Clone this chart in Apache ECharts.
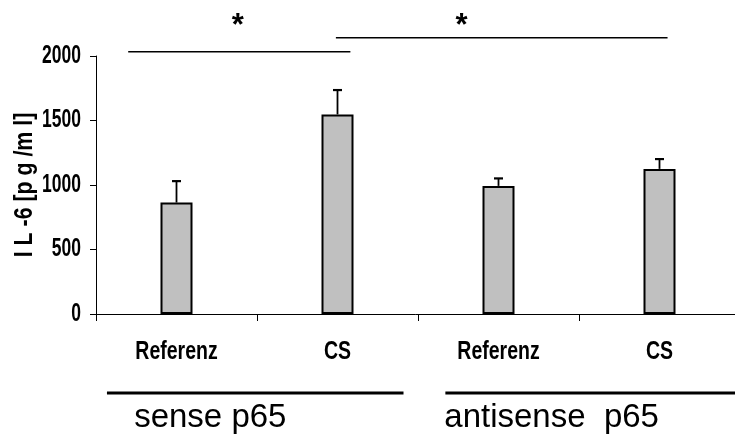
<!DOCTYPE html>
<html>
<head>
<meta charset="utf-8">
<script src="https://cdn.jsdelivr.net/npm/echarts@6/dist/echarts.min.js"></script>
<style>html,body{margin:0;padding:0;background:#fff}#c{width:735px;height:434px}</style>
</head>
<body>
<div id="c"></div>
<script>
// ---- data ----
const categories = ['Referenz', 'CS', 'Referenz', 'CS'];
const values = [864, 1547, 993, 1125];
const errorsUp = [166, 189, 58, 76];
const yTicks = [0, 500, 1000, 1500, 2000];
const yTitle = 'I L -6 [p g /m l]';
// significance brackets: [xStart, xEnd, y] in category units (0..4) / value units
const sigLines = [[0.2, 1.58, 2033], [1.49, 3.55, 2142]];
const sigStars = [[0.88, 2229], [2.27, 2229]];
// group bars below the axis
const groupLines = [[0.068, 1.91, -613], [2.17, 4.1, -613]];
const groupLabels = ['sense p65', 'antisense  p65'];
const groupLabelPos = [[0.71, -806], [2.83, -806]];

const sans = '"Liberation Sans", Arial, sans-serif';

const chart = echarts.init(document.getElementById('c'), null, {renderer: 'canvas'});
chart.setOption({
  animation: false,
  backgroundColor: '#fff',
  grid: {left: 96, right: -5, top: 56, bottom: 120, containLabel: false, outerBoundsMode: 'none'},
  xAxis: [{
    type: 'category', data: categories,
    axisLine: {lineStyle: {color: '#000', width: 1}},
    axisTick: {show: true, length: 7, lineStyle: {color: '#000'}},
    axisLabel: {show: false},
    splitLine: {show: false}
  }, {
    type: 'value', min: 0, max: 4, show: false
  }],
  yAxis: {
    type: 'value', min: 0, max: 2000, interval: 500,
    axisLine: {show: true, lineStyle: {color: '#000', width: 1}},
    axisTick: {show: true, length: 6, lineStyle: {color: '#000'}},
    axisLabel: {show: false},
    splitLine: {show: false}
  },
  series: [
    {
      type: 'bar', data: values, barWidth: 32, xAxisIndex: 0,
      itemStyle: {color: '#C0C0C0', borderColor: '#000', borderWidth: 2}
    },
    {
      type: 'custom', xAxisIndex: 0, z: 3,
      data: values.map((v, i) => [i, v, v + errorsUp[i]]),
      renderItem: (params, api) => {
        const b = api.coord([api.value(0), api.value(1)]);
        const t = api.coord([api.value(0), api.value(2)]);
        const cap = 4.5;
        return {type: 'group', children: [
          {type: 'line', shape: {x1: b[0], y1: b[1], x2: t[0], y2: t[1]}, style: {stroke: '#000', lineWidth: 1.8}},
          {type: 'line', shape: {x1: t[0] - cap, y1: t[1], x2: t[0] + cap, y2: t[1]}, style: {stroke: '#000', lineWidth: 2.2}}
        ]};
      }
    },
    // x tick labels (condensed bold)
    {
      type: 'custom', xAxisIndex: 1, clip: false, z: 5,
      data: categories.map((c, i) => [i + 0.5, 0, i]),
      renderItem: (params, api) => {
        const p = api.coord([api.value(0), api.value(1)]);
        return {type: 'text', x: p[0], y: p[1] + 38, scaleX: 0.75,
          style: {text: categories[api.value(2)], fill: '#000', font: 'bold 26px ' + sans, align: 'center', verticalAlign: 'middle'}};
      }
    },
    // y tick labels
    {
      type: 'custom', xAxisIndex: 1, clip: false, z: 5,
      data: yTicks.map(v => [0, v]),
      renderItem: (params, api) => {
        const p = api.coord([api.value(0), api.value(1)]);
        return {type: 'text', x: p[0] - 15, y: p[1], scaleX: 0.7,
          style: {text: String(api.value(1)), fill: '#000', font: 'bold 25px ' + sans, align: 'right', verticalAlign: 'middle'}};
      }
    },
    // y axis title
    {
      type: 'custom', xAxisIndex: 1, clip: false, z: 5,
      data: [[0, 1000]],
      renderItem: (params, api) => {
        const p = api.coord([api.value(0), api.value(1)]);
        return {type: 'text', x: p[0] - 71, y: p[1], rotation: Math.PI / 2, scaleX: 0.82,
          style: {text: yTitle, fill: '#000', font: 'bold 26px ' + sans, align: 'center', verticalAlign: 'middle'}};
      }
    },
    {
      type: 'custom', xAxisIndex: 1, clip: false, z: 5,
      data: sigLines,
      renderItem: (params, api) => {
        const a = api.coord([api.value(0), api.value(2)]);
        const b = api.coord([api.value(1), api.value(2)]);
        return {type: 'line', shape: {x1: a[0], y1: a[1], x2: b[0], y2: b[1]}, style: {stroke: '#000', lineWidth: 1.5}};
      }
    },
    {
      type: 'custom', xAxisIndex: 1, clip: false, z: 5,
      data: sigStars,
      renderItem: (params, api) => {
        const p = api.coord([api.value(0), api.value(1)]);
        return {type: 'text', x: p[0], y: p[1], style: {text: '*', fill: '#000', font: 'bold 31px ' + sans, align: 'center', verticalAlign: 'middle'}};
      }
    },
    {
      type: 'custom', xAxisIndex: 1, clip: false, z: 5,
      data: groupLines,
      renderItem: (params, api) => {
        const a = api.coord([api.value(0), api.value(2)]);
        const b = api.coord([api.value(1), api.value(2)]);
        return {type: 'line', shape: {x1: a[0], y1: a[1], x2: b[0], y2: b[1]}, style: {stroke: '#000', lineWidth: 3}};
      }
    },
    {
      type: 'custom', xAxisIndex: 1, clip: false, z: 5,
      data: groupLabelPos.map((p, i) => [p[0], p[1], i]),
      renderItem: (params, api) => {
        const p = api.coord([api.value(0), api.value(1)]);
        return {type: 'text', x: p[0], y: p[1], style: {text: groupLabels[api.value(2)], fill: '#000', font: '33px ' + sans, align: 'center', verticalAlign: 'middle'}};
      }
    }
  ]
});
</script>
</body>
</html>
